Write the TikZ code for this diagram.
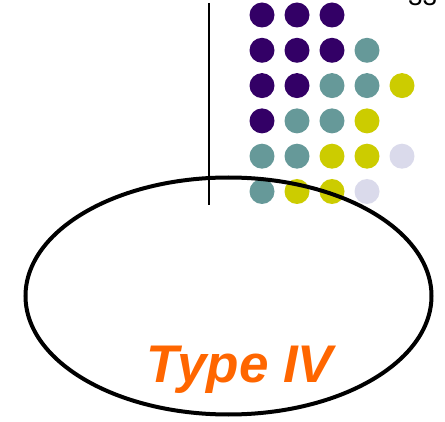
\documentclass[tikz,border=0pt]{standalone}
\usepackage{fontspec}
\setmainfont{Liberation Sans}
\usepackage{tikz}
\definecolor{dotpurple}{HTML}{330066}
\definecolor{dotteal}{HTML}{669999}
\definecolor{dotyellow}{HTML}{CCCC00}
\definecolor{dotlilac}{HTML}{DADAEB}
\definecolor{typeorange}{HTML}{FF6600}

\begin{document}
\begin{tikzpicture}[
  x=1pt, y=-1pt,
  dot/.style = {circle, inner sep=0pt, minimum size=25pt},
  every node/.style = {align=center}
]
  \clip (0,0) rectangle (445,422);
  \useasboundingbox (0,0) rectangle (445,422);
  % page number, cut at the top
  \node[anchor=base west, inner sep=0pt, font=\fontsize{26}{26}\selectfont] (pagenum) at (408,6) {33};
  % the axis line
  \coordinate (axistop) at (209,3);
  \coordinate (axisbot) at (209,205);
  \draw[line width=1.5pt] (axistop) -- (axisbot);
  % dots, row by row
  \foreach \row/\cols in {1/{dotpurple,dotpurple,dotpurple},
                          2/{dotpurple,dotpurple,dotpurple,dotteal},
                          3/{dotpurple,dotpurple,dotteal,dotteal,dotyellow},
                          4/{dotpurple,dotteal,dotteal,dotyellow},
                          5/{dotteal,dotteal,dotyellow,dotyellow,dotlilac},
                          6/{dotteal,dotyellow,dotyellow,dotlilac}}
    \foreach \c [count=\col] in \cols
      \node[dot, fill=\c] (dot-\row-\col) at ({262+35*(\col-1)},{15+35.3*(\row-1)}) {};
  % the big ellipse
  \draw[line width=4pt] (228.5,296) ellipse [x radius=203, y radius=118.5];
  \node[anchor=base, inner sep=0pt, text=typeorange,
        font=\fontsize{53}{53}\selectfont\bfseries\itshape] (typelabel) at (240,383) {Type IV};
\end{tikzpicture}
\end{document}
